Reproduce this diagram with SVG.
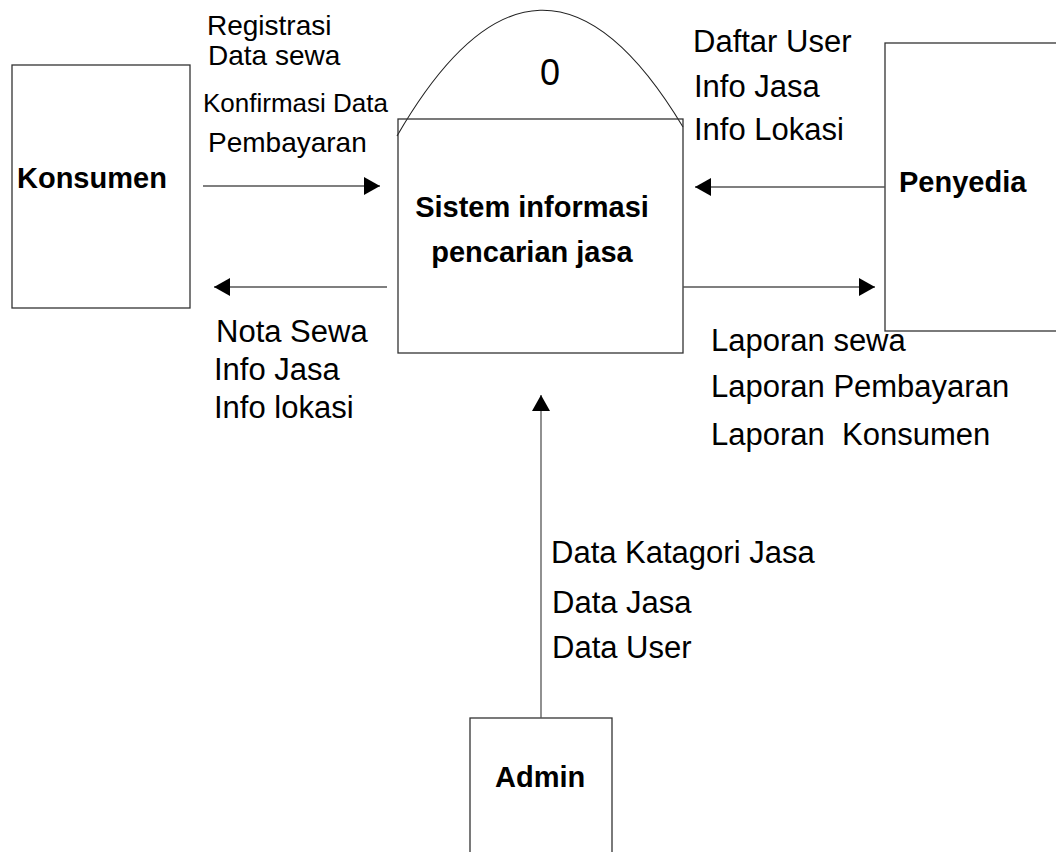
<svg xmlns="http://www.w3.org/2000/svg" width="1056" height="852" viewBox="0 0 1056 852">
  <defs>
    <style>
      .box { fill: #ffffff; stroke: #333333; stroke-width: 1.3; }
      .frame { fill: none; stroke: #333333; stroke-width: 1.3; }
      .arc { fill: none; stroke: #222222; stroke-width: 1.1; }
      .flow { stroke: #555555; stroke-width: 1.3; fill: none; marker-end: url(#arrow); }
      .lbl { font-family: "Liberation Sans", Arial, sans-serif; font-size: 31px; fill: #000000; white-space: pre; }
      .lbl28 { font-size: 28px; }
      .lbl26 { font-size: 26px; }
      .name { font-family: "Liberation Sans", Arial, sans-serif; font-size: 29px; font-weight: bold; fill: #000000; }
      .num { font-family: "Liberation Sans", Arial, sans-serif; font-size: 36px; fill: #000000; }
    </style>
    <marker id="arrow" markerUnits="userSpaceOnUse" markerWidth="17" markerHeight="18" refX="16" refY="9" orient="auto">
      <path d="M0,0 L16,9 L0,18 Z" fill="#000000"/>
    </marker>
  </defs>
  <rect width="1056" height="852" fill="#ffffff"/>

  <g id="konsumen">
    <rect class="box" x="12" y="65" width="178" height="243"/>
    <text class="name" x="17" y="188">Konsumen</text>
  </g>

  <g id="proses">
    <path class="arc" d="M397,136 Q540,-111 683,127"/>
    <rect class="frame" x="398" y="119" width="285" height="234"/>
    <text class="num" x="550" y="85" text-anchor="middle">0</text>
    <text class="name" x="532" y="217" text-anchor="middle">Sistem informasi</text>
    <text class="name" x="532" y="262" text-anchor="middle">pencarian jasa</text>
  </g>

  <g id="penyedia">
    <rect class="box" x="885" y="43" width="200" height="288"/>
    <text class="name" x="899" y="192">Penyedia</text>
  </g>

  <g id="admin">
    <rect class="box" x="470" y="718" width="142" height="200"/>
    <text class="name" x="495" y="787">Admin</text>
  </g>

  <g id="connectors">
    <line class="flow" x1="203" y1="186" x2="380" y2="186"/>
    <line class="flow" x1="387" y1="287" x2="214" y2="287"/>
    <line class="flow" x1="885" y1="187" x2="695" y2="187"/>
    <line class="flow" x1="683" y1="287" x2="875" y2="287"/>
    <line class="flow" x1="541" y1="718" x2="541" y2="395"/>
  </g>

  <g id="labels">
    <text class="lbl lbl28" x="207" y="35">Registrasi</text>
    <text class="lbl lbl28" x="208" y="65">Data sewa</text>
    <text class="lbl lbl26" x="203" y="112">Konfirmasi Data</text>
    <text class="lbl lbl28" x="208" y="152">Pembayaran</text>

    <text class="lbl" x="693" y="52">Daftar User</text>
    <text class="lbl" x="694" y="97">Info Jasa</text>
    <text class="lbl" x="694" y="140">Info Lokasi</text>

    <text class="lbl" x="216" y="342">Nota Sewa</text>
    <text class="lbl" x="214" y="380">Info Jasa</text>
    <text class="lbl" x="214" y="418">Info lokasi</text>

    <text class="lbl" x="711" y="351">Laporan sewa</text>
    <text class="lbl" x="711" y="397">Laporan Pembayaran</text>
    <text class="lbl" x="711" y="445">Laporan  Konsumen</text>

    <text class="lbl" x="551" y="563">Data Katagori Jasa</text>
    <text class="lbl" x="552" y="613">Data Jasa</text>
    <text class="lbl" x="552" y="658">Data User</text>
  </g>
</svg>
